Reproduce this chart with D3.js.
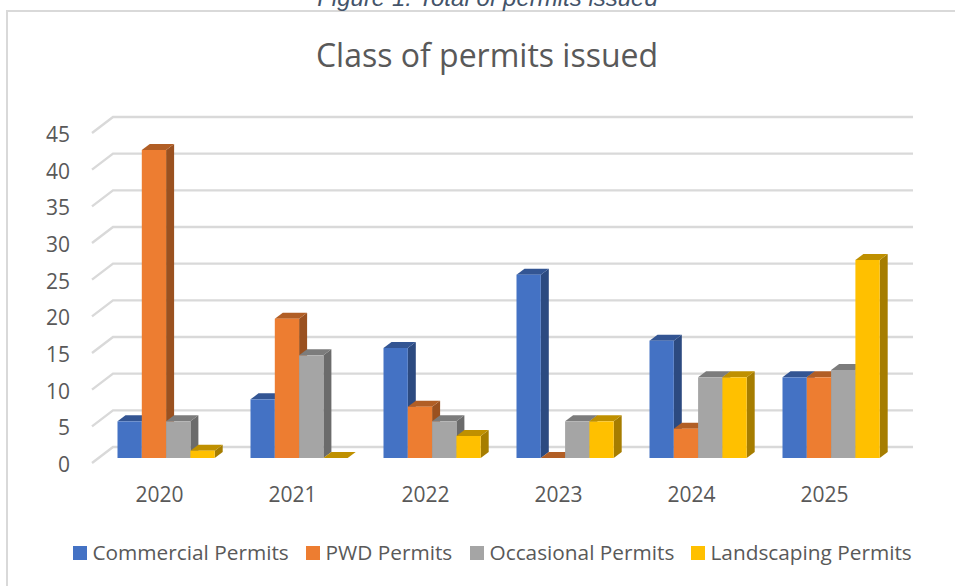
<!DOCTYPE html>
<html>
<head>
<meta charset="utf-8">
<script src="https://cdn.jsdelivr.net/npm/d3@7"></script>
<style>
  html, body { margin: 0; padding: 0; background: #fff; }
  svg { display: block; }
  text { font-family: "Open Sans", "Noto Sans", sans-serif; fill: #595959; }
</style>
</head>
<body>
<svg id="chart" width="955" height="586"></svg>
<script>
const years = ["2020", "2021", "2022", "2023", "2024", "2025"];
const seriesNames = ["Commercial Permits", "PWD Permits", "Occasional Permits", "Landscaping Permits"];
const commercial = [5, 8, 15, 25, 16, 11];
const pwd = [42, 19, 7, 0, 4, 11];
const occasional = [5, 14, 5, 5, 11, 12];
const landscaping = [1, 0, 3, 5, 11, 27];
const yTicks = [0, 5, 10, 15, 20, 25, 30, 35, 40, 45];

const front = ["#4472c4", "#ed7d31", "#a5a5a5", "#ffc000"];
const topFace = ["#335593", "#b15e25", "#7c7c7c", "#bf9000"];
const sideFace = ["#2c4a80", "#9a5120", "#6b6b6b", "#a67d00"];

const svg = d3.select("#chart");
const depthX = 8, depthY = 6;
const wallX = 113, wallRight = 913, floorDrop = 16;
const groupW = 97.2;

// frame: top line runs off the right side, left line off the bottom
svg.append("path")
  .attr("d", "M7,586V11H955")
  .attr("fill", "none")
  .attr("stroke", "#d9d9d9")
  .attr("stroke-width", 2);

// caption is clipped by the page top in the reference too
svg.append("text")
  .attr("x", 487.5).attr("y", 6)
  .attr("text-anchor", "middle")
  .style("font-family", "Liberation Sans")
  .style("font-style", "italic")
  .style("font-size", "24px")
  .style("fill", "#44546a")
  .text("Figure 1: Total of permits issued");

svg.append("text")
  .attr("x", 487).attr("y", 67)
  .attr("text-anchor", "middle")
  .style("font-size", "32px")
  .text("Class of permits issued");

// y runs on the front plane of the bars
const y = d3.scaleLinear().domain([0, 45]).range([458, 128]);
const x0 = d3.scaleBand().domain(years).range([99.6, 897.6]);
const x1 = d3.scaleBand().domain(seriesNames).range([0, groupW]);
const groupOffset = (x0.step() - groupW) / 2;
const barX = (yearIdx, s) => x0(years[yearIdx]) + groupOffset + x1(s);

// back wall gridlines with the slanted part on the side wall
const grid = svg.append("g").attr("fill", "none").attr("stroke", "#d9d9d9").attr("stroke-width", 2.4);
yTicks.forEach(t => {
  const yb = y(t) - 11;
  grid.append("path").attr("d", `M92,${yb + floorDrop}L${wallX},${yb}H${wallRight}`);
});

const tickLabels = svg.append("g").style("font-size", "21px");
yTicks.forEach(t => {
  tickLabels.append("text")
    .attr("x", 70).attr("y", y(t) + 14)
    .attr("text-anchor", "end")
    .text(t);
});

const allValues = [commercial, pwd, occasional, landscaping];
const bars = svg.append("g");
years.forEach((yr, i) => {
  // left to right, each bar covers its left neighbour's side face
  seriesNames.forEach((name, s) => {
    const v = allValues[s][i];
    const xl = barX(i, name);
    const w = x1.bandwidth();
    const yt = y(v), yb = y(0);
    const g = bars.append("g");
    g.append("path").attr("fill", sideFace[s])
      .attr("d", `M${xl + w},${yt}l${depthX},${-depthY}V${yb - depthY}l${-depthX},${depthY}Z`);
    g.append("path").attr("fill", topFace[s])
      .attr("d", `M${xl},${yt}l${depthX},${-depthY}h${w}l${-depthX},${depthY}Z`);
    if (v > 0) g.append("rect").attr("fill", front[s])
      .attr("x", xl).attr("y", yt).attr("width", w).attr("height", yb - yt);
  });
  svg.append("text")
    .attr("x", barX(i, seriesNames[0]) + groupW / 2 - 6.5)
    .attr("y", 502)
    .attr("text-anchor", "middle")
    .style("font-size", "21px")
    .text(yr);
});

// legend
const legendX = [73, 306, 470, 691];
seriesNames.forEach((name, s) => {
  const g = svg.append("g").attr("transform", `translate(${legendX[s]},546)`);
  g.append("rect").attr("width", 14).attr("height", 14).attr("fill", front[s]);
  g.append("text").attr("x", 19.5).attr("y", 14).style("font-size", "20.8px").text(name);
});
</script>
</body>
</html>
